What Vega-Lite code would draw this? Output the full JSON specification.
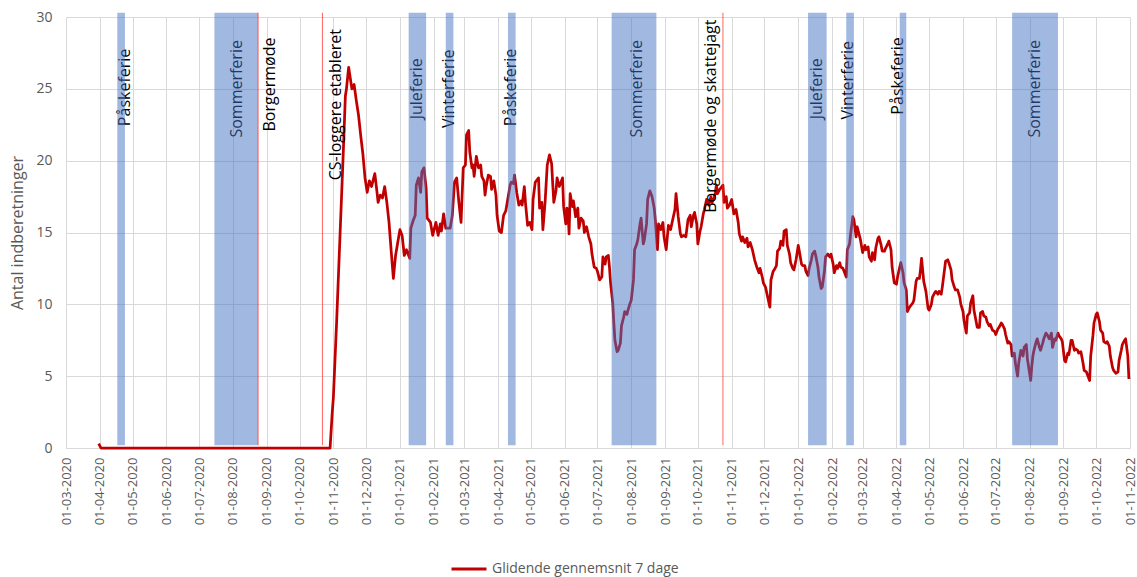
{
  "$schema": "https://vega.github.io/schema/vega-lite/v6.json",
  "width": 1064,
  "height": 431,
  "autosize": "none",
  "padding": {"left": 66, "top": 17, "right": 7, "bottom": 129},
  "background": "white",
  "config": {
    "font": "Open Sans",
    "view": {"stroke": null},
    "axis": {"titleFontWeight": "normal"}
  },
  "datasets": {
    "series": [
      {"date":"2020-03-31","value":0.3},{"date":"2020-04-02","value":0},{"date":"2020-10-29","value":0},{"date":"2020-10-31","value":2.5},{"date":"2020-11-01","value":3.5},{"date":"2020-11-04","value":8.8},{"date":"2020-11-07","value":14.6},{"date":"2020-11-10","value":20.4},{"date":"2020-11-12","value":24.5},{"date":"2020-11-13","value":25.0},{"date":"2020-11-15","value":26.5},{"date":"2020-11-16","value":26.0},{"date":"2020-11-18","value":25.0},{"date":"2020-11-20","value":25.3},{"date":"2020-11-22","value":24.2},{"date":"2020-11-24","value":23.2},{"date":"2020-11-26","value":21.8},{"date":"2020-11-28","value":20.5},{"date":"2020-11-30","value":18.8},
      {"date":"2020-12-02","value":17.8},{"date":"2020-12-04","value":18.6},{"date":"2020-12-06","value":18.2},{"date":"2020-12-08","value":18.8},{"date":"2020-12-09","value":19.1},{"date":"2020-12-11","value":17.8},{"date":"2020-12-12","value":17.1},{"date":"2020-12-14","value":17.6},{"date":"2020-12-16","value":17.4},{"date":"2020-12-18","value":18.2},{"date":"2020-12-20","value":17.1},{"date":"2020-12-22","value":15.7},{"date":"2020-12-24","value":13.7},{"date":"2020-12-26","value":11.8},{"date":"2020-12-28","value":13.4},{"date":"2020-12-30","value":14.3},
      {"date":"2021-01-01","value":15.2},{"date":"2021-01-03","value":14.8},{"date":"2021-01-05","value":13.4},{"date":"2021-01-07","value":13.8},{"date":"2021-01-09","value":13.4},{"date":"2021-01-10","value":13.2},{"date":"2021-01-11","value":15.3},{"date":"2021-01-13","value":15.8},{"date":"2021-01-15","value":16.2},{"date":"2021-01-16","value":18.3},{"date":"2021-01-18","value":18.8},{"date":"2021-01-20","value":17.8},{"date":"2021-01-21","value":19.2},{"date":"2021-01-23","value":19.5},{"date":"2021-01-25","value":18.1},{"date":"2021-01-26","value":16.0},{"date":"2021-01-29","value":15.7},{"date":"2021-01-31","value":14.8},
      {"date":"2021-02-03","value":15.7},{"date":"2021-02-05","value":14.8},{"date":"2021-02-07","value":15.6},{"date":"2021-02-08","value":15.1},{"date":"2021-02-10","value":16.3},{"date":"2021-02-12","value":15.3},{"date":"2021-02-16","value":15.3},{"date":"2021-02-18","value":16.2},{"date":"2021-02-20","value":18.5},{"date":"2021-02-22","value":18.8},{"date":"2021-02-24","value":17.1},{"date":"2021-02-26","value":15.7},{"date":"2021-02-28","value":19.5},
      {"date":"2021-03-02","value":19.7},{"date":"2021-03-03","value":21.8},{"date":"2021-03-05","value":22.1},{"date":"2021-03-06","value":20.6},{"date":"2021-03-08","value":19.5},{"date":"2021-03-09","value":19.7},{"date":"2021-03-10","value":18.9},{"date":"2021-03-12","value":20.3},{"date":"2021-03-14","value":19.5},{"date":"2021-03-16","value":19.7},{"date":"2021-03-17","value":18.9},{"date":"2021-03-19","value":18.6},{"date":"2021-03-20","value":17.6},{"date":"2021-03-21","value":18.2},{"date":"2021-03-23","value":19.0},{"date":"2021-03-25","value":18.9},{"date":"2021-03-26","value":18.0},{"date":"2021-03-28","value":18.6},{"date":"2021-03-30","value":17.6},{"date":"2021-03-31","value":16.2},
      {"date":"2021-04-02","value":15.1},{"date":"2021-04-04","value":15.0},{"date":"2021-04-06","value":16.2},{"date":"2021-04-08","value":16.5},{"date":"2021-04-10","value":17.4},{"date":"2021-04-12","value":18.3},{"date":"2021-04-13","value":18.5},{"date":"2021-04-15","value":18.4},{"date":"2021-04-16","value":19.0},{"date":"2021-04-18","value":17.8},{"date":"2021-04-20","value":16.9},{"date":"2021-04-22","value":17.2},{"date":"2021-04-23","value":16.9},{"date":"2021-04-25","value":18.2},{"date":"2021-04-26","value":17.1},{"date":"2021-04-28","value":15.5},{"date":"2021-04-30","value":15.7},
      {"date":"2021-05-02","value":15.2},{"date":"2021-05-03","value":17.3},{"date":"2021-05-05","value":18.5},{"date":"2021-05-08","value":18.8},{"date":"2021-05-09","value":16.7},{"date":"2021-05-11","value":17.1},{"date":"2021-05-12","value":15.2},{"date":"2021-05-14","value":17.1},{"date":"2021-05-16","value":19.7},{"date":"2021-05-18","value":20.4},{"date":"2021-05-20","value":19.8},{"date":"2021-05-21","value":18.4},{"date":"2021-05-22","value":17.1},{"date":"2021-05-24","value":17.9},{"date":"2021-05-25","value":18.8},{"date":"2021-05-27","value":18.2},{"date":"2021-05-28","value":18.4},{"date":"2021-05-30","value":18.8},{"date":"2021-05-31","value":16.8},
      {"date":"2021-06-02","value":15.6},{"date":"2021-06-03","value":16.7},{"date":"2021-06-04","value":16.5},{"date":"2021-06-05","value":14.9},{"date":"2021-06-06","value":17.7},{"date":"2021-06-08","value":16.8},{"date":"2021-06-09","value":17.2},{"date":"2021-06-11","value":16.1},{"date":"2021-06-13","value":16.7},{"date":"2021-06-14","value":15.3},{"date":"2021-06-16","value":16.0},{"date":"2021-06-18","value":15.8},{"date":"2021-06-19","value":15.0},{"date":"2021-06-21","value":15.4},{"date":"2021-06-23","value":14.7},{"date":"2021-06-25","value":14.2},{"date":"2021-06-26","value":13.5},{"date":"2021-06-28","value":12.6},{"date":"2021-06-30","value":12.5},
      {"date":"2021-07-01","value":12.3},{"date":"2021-07-03","value":11.7},{"date":"2021-07-05","value":11.9},{"date":"2021-07-06","value":13.3},{"date":"2021-07-08","value":12.8},{"date":"2021-07-09","value":13.3},{"date":"2021-07-11","value":13.4},{"date":"2021-07-12","value":12.6},{"date":"2021-07-13","value":11.5},{"date":"2021-07-15","value":10.1},{"date":"2021-07-16","value":8.7},{"date":"2021-07-17","value":7.5},{"date":"2021-07-19","value":6.7},{"date":"2021-07-20","value":6.8},{"date":"2021-07-22","value":7.3},{"date":"2021-07-23","value":8.5},{"date":"2021-07-25","value":9.1},{"date":"2021-07-26","value":9.5},{"date":"2021-07-28","value":9.3},{"date":"2021-07-29","value":9.6},{"date":"2021-07-31","value":10.1},
      {"date":"2021-08-01","value":10.3},{"date":"2021-08-03","value":11.7},{"date":"2021-08-04","value":13.8},{"date":"2021-08-06","value":14.2},{"date":"2021-08-07","value":14.5},{"date":"2021-08-09","value":15.6},{"date":"2021-08-10","value":16.0},{"date":"2021-08-12","value":14.2},{"date":"2021-08-13","value":14.5},{"date":"2021-08-15","value":15.6},{"date":"2021-08-16","value":17.3},{"date":"2021-08-18","value":17.9},{"date":"2021-08-20","value":17.5},{"date":"2021-08-22","value":16.7},{"date":"2021-08-23","value":15.9},{"date":"2021-08-25","value":13.8},{"date":"2021-08-26","value":15.6},{"date":"2021-08-28","value":15.2},{"date":"2021-08-30","value":15.7},{"date":"2021-08-31","value":14.7},
      {"date":"2021-09-02","value":13.8},{"date":"2021-09-04","value":15.5},{"date":"2021-09-06","value":15.2},{"date":"2021-09-08","value":15.9},{"date":"2021-09-10","value":16.6},{"date":"2021-09-11","value":17.7},{"date":"2021-09-13","value":16.1},{"date":"2021-09-15","value":14.9},{"date":"2021-09-16","value":14.7},{"date":"2021-09-18","value":14.8},{"date":"2021-09-20","value":14.7},{"date":"2021-09-22","value":15.9},{"date":"2021-09-24","value":16.2},{"date":"2021-09-25","value":15.4},{"date":"2021-09-27","value":16.2},{"date":"2021-09-28","value":16.4},{"date":"2021-09-30","value":15.6},
      {"date":"2021-10-01","value":14.2},{"date":"2021-10-03","value":15.1},{"date":"2021-10-04","value":15.4},{"date":"2021-10-06","value":16.3},{"date":"2021-10-07","value":16.6},{"date":"2021-10-09","value":17.3},{"date":"2021-10-11","value":16.9},{"date":"2021-10-13","value":17.5},{"date":"2021-10-14","value":17.1},{"date":"2021-10-16","value":17.4},{"date":"2021-10-17","value":17.8},{"date":"2021-10-18","value":18.3},{"date":"2021-10-19","value":17.7},{"date":"2021-10-21","value":18.0},{"date":"2021-10-22","value":18.1},{"date":"2021-10-24","value":18.3},{"date":"2021-10-25","value":17.1},{"date":"2021-10-27","value":17.5},{"date":"2021-10-28","value":16.7},{"date":"2021-10-30","value":16.9},
      {"date":"2021-11-01","value":17.3},{"date":"2021-11-03","value":16.3},{"date":"2021-11-05","value":16.6},{"date":"2021-11-07","value":15.7},{"date":"2021-11-08","value":14.9},{"date":"2021-11-10","value":14.4},{"date":"2021-11-11","value":14.7},{"date":"2021-11-13","value":14.3},{"date":"2021-11-15","value":14.6},{"date":"2021-11-16","value":14.0},{"date":"2021-11-18","value":14.3},{"date":"2021-11-20","value":13.8},{"date":"2021-11-22","value":13.1},{"date":"2021-11-24","value":12.6},{"date":"2021-11-26","value":12.2},{"date":"2021-11-27","value":12.5},{"date":"2021-11-29","value":11.9},{"date":"2021-11-30","value":11.5},
      {"date":"2021-12-02","value":11.2},{"date":"2021-12-04","value":10.5},{"date":"2021-12-06","value":9.8},{"date":"2021-12-07","value":11.7},{"date":"2021-12-09","value":12.3},{"date":"2021-12-10","value":12.4},{"date":"2021-12-12","value":12.7},{"date":"2021-12-13","value":13.7},{"date":"2021-12-15","value":13.9},{"date":"2021-12-16","value":14.4},{"date":"2021-12-18","value":14.1},{"date":"2021-12-19","value":15.1},{"date":"2021-12-21","value":15.2},{"date":"2021-12-22","value":14.1},{"date":"2021-12-24","value":13.5},{"date":"2021-12-25","value":12.9},{"date":"2021-12-27","value":12.5},{"date":"2021-12-28","value":12.4},{"date":"2021-12-30","value":13.1},
      {"date":"2022-01-01","value":14.1},{"date":"2022-01-02","value":13.7},{"date":"2022-01-04","value":12.8},{"date":"2022-01-05","value":12.7},{"date":"2022-01-07","value":12.7},{"date":"2022-01-08","value":12.3},{"date":"2022-01-10","value":12.0},{"date":"2022-01-11","value":12.5},{"date":"2022-01-13","value":13.1},{"date":"2022-01-14","value":13.5},{"date":"2022-01-16","value":13.7},{"date":"2022-01-17","value":13.4},{"date":"2022-01-19","value":12.6},{"date":"2022-01-20","value":11.9},{"date":"2022-01-22","value":11.1},{"date":"2022-01-23","value":11.2},{"date":"2022-01-25","value":12.3},{"date":"2022-01-26","value":13.3},{"date":"2022-01-28","value":13.5},{"date":"2022-01-30","value":13.3},{"date":"2022-01-31","value":13.5},
      {"date":"2022-02-02","value":12.8},{"date":"2022-02-03","value":12.2},{"date":"2022-02-05","value":12.7},{"date":"2022-02-06","value":12.5},{"date":"2022-02-08","value":12.9},{"date":"2022-02-09","value":12.6},{"date":"2022-02-11","value":12.5},{"date":"2022-02-12","value":12.3},{"date":"2022-02-14","value":11.9},{"date":"2022-02-15","value":13.8},{"date":"2022-02-17","value":14.2},{"date":"2022-02-18","value":14.9},{"date":"2022-02-20","value":16.1},{"date":"2022-02-21","value":15.9},{"date":"2022-02-23","value":14.7},{"date":"2022-02-24","value":15.4},{"date":"2022-02-26","value":14.8},{"date":"2022-02-27","value":14.5},
      {"date":"2022-03-01","value":13.6},{"date":"2022-03-03","value":14.1},{"date":"2022-03-04","value":13.8},{"date":"2022-03-06","value":14.0},{"date":"2022-03-07","value":13.3},{"date":"2022-03-09","value":13.0},{"date":"2022-03-10","value":13.6},{"date":"2022-03-12","value":13.1},{"date":"2022-03-13","value":13.9},{"date":"2022-03-15","value":14.6},{"date":"2022-03-16","value":14.7},{"date":"2022-03-18","value":14.1},{"date":"2022-03-19","value":13.7},{"date":"2022-03-21","value":13.7},{"date":"2022-03-22","value":13.9},{"date":"2022-03-24","value":14.2},{"date":"2022-03-25","value":14.4},{"date":"2022-03-27","value":13.8},{"date":"2022-03-28","value":12.6},{"date":"2022-03-30","value":11.5},
      {"date":"2022-04-01","value":11.4},{"date":"2022-04-02","value":11.9},{"date":"2022-04-04","value":12.6},{"date":"2022-04-05","value":12.9},{"date":"2022-04-07","value":12.2},{"date":"2022-04-08","value":11.5},{"date":"2022-04-10","value":11.0},{"date":"2022-04-11","value":9.5},{"date":"2022-04-13","value":9.8},{"date":"2022-04-14","value":9.9},{"date":"2022-04-16","value":10.1},{"date":"2022-04-17","value":10.3},{"date":"2022-04-19","value":11.6},{"date":"2022-04-20","value":11.8},{"date":"2022-04-22","value":11.8},{"date":"2022-04-23","value":12.4},{"date":"2022-04-24","value":13.2},{"date":"2022-04-25","value":12.4},{"date":"2022-04-26","value":11.6},{"date":"2022-04-28","value":10.9},{"date":"2022-04-30","value":9.7},
      {"date":"2022-05-01","value":9.6},{"date":"2022-05-03","value":10.0},{"date":"2022-05-04","value":10.5},{"date":"2022-05-06","value":10.8},{"date":"2022-05-07","value":10.9},{"date":"2022-05-09","value":10.7},{"date":"2022-05-10","value":10.9},{"date":"2022-05-12","value":10.7},{"date":"2022-05-13","value":11.2},{"date":"2022-05-15","value":12.4},{"date":"2022-05-16","value":13.0},{"date":"2022-05-18","value":13.1},{"date":"2022-05-19","value":12.9},{"date":"2022-05-21","value":12.4},{"date":"2022-05-22","value":11.7},{"date":"2022-05-24","value":11.2},{"date":"2022-05-25","value":11.0},{"date":"2022-05-27","value":11.0},{"date":"2022-05-29","value":10.5},{"date":"2022-05-30","value":10.0},
      {"date":"2022-06-01","value":9.5},{"date":"2022-06-02","value":8.8},{"date":"2022-06-04","value":8.0},{"date":"2022-06-05","value":9.2},{"date":"2022-06-07","value":9.4},{"date":"2022-06-08","value":10.1},{"date":"2022-06-10","value":10.6},{"date":"2022-06-11","value":9.6},{"date":"2022-06-13","value":8.8},{"date":"2022-06-14","value":8.4},{"date":"2022-06-16","value":8.4},{"date":"2022-06-17","value":9.4},{"date":"2022-06-19","value":9.5},{"date":"2022-06-20","value":9.2},{"date":"2022-06-22","value":9.1},{"date":"2022-06-23","value":8.8},{"date":"2022-06-25","value":8.5},{"date":"2022-06-26","value":8.6},{"date":"2022-06-28","value":8.2},{"date":"2022-06-30","value":8.1},
      {"date":"2022-07-01","value":7.9},{"date":"2022-07-03","value":8.3},{"date":"2022-07-04","value":8.4},{"date":"2022-07-06","value":8.7},{"date":"2022-07-07","value":8.6},{"date":"2022-07-09","value":8.3},{"date":"2022-07-10","value":7.9},{"date":"2022-07-12","value":7.3},{"date":"2022-07-13","value":7.4},{"date":"2022-07-15","value":7.2},{"date":"2022-07-16","value":6.4},{"date":"2022-07-18","value":6.6},{"date":"2022-07-19","value":5.9},{"date":"2022-07-21","value":5.0},{"date":"2022-07-22","value":5.9},{"date":"2022-07-24","value":6.8},{"date":"2022-07-26","value":6.4},{"date":"2022-07-27","value":7.0},{"date":"2022-07-29","value":7.2},{"date":"2022-07-30","value":6.2},
      {"date":"2022-08-01","value":5.2},{"date":"2022-08-02","value":4.7},{"date":"2022-08-03","value":5.7},{"date":"2022-08-04","value":6.4},{"date":"2022-08-05","value":6.8},{"date":"2022-08-07","value":7.4},{"date":"2022-08-08","value":7.6},{"date":"2022-08-10","value":7.0},{"date":"2022-08-11","value":6.8},{"date":"2022-08-13","value":7.3},{"date":"2022-08-14","value":7.6},{"date":"2022-08-16","value":8.0},{"date":"2022-08-17","value":7.9},{"date":"2022-08-19","value":7.6},{"date":"2022-08-21","value":8.0},{"date":"2022-08-22","value":7.0},{"date":"2022-08-24","value":7.6},{"date":"2022-08-25","value":7.5},{"date":"2022-08-27","value":8.0},{"date":"2022-08-28","value":7.8},{"date":"2022-08-30","value":7.6},{"date":"2022-08-31","value":7.4},
      {"date":"2022-09-02","value":6.1},{"date":"2022-09-03","value":6.0},{"date":"2022-09-05","value":6.6},{"date":"2022-09-06","value":6.5},{"date":"2022-09-08","value":7.5},{"date":"2022-09-09","value":7.5},{"date":"2022-09-11","value":6.8},{"date":"2022-09-12","value":6.9},{"date":"2022-09-14","value":6.8},{"date":"2022-09-15","value":6.6},{"date":"2022-09-17","value":6.7},{"date":"2022-09-19","value":5.9},{"date":"2022-09-20","value":5.4},{"date":"2022-09-22","value":5.3},{"date":"2022-09-23","value":5.1},{"date":"2022-09-25","value":4.7},{"date":"2022-09-26","value":6.4},{"date":"2022-09-28","value":7.8},{"date":"2022-09-29","value":8.7},
      {"date":"2022-10-01","value":9.3},{"date":"2022-10-02","value":9.4},{"date":"2022-10-04","value":8.8},{"date":"2022-10-05","value":8.2},{"date":"2022-10-07","value":8.0},{"date":"2022-10-08","value":7.4},{"date":"2022-10-10","value":7.3},{"date":"2022-10-11","value":7.4},{"date":"2022-10-13","value":7.1},{"date":"2022-10-14","value":6.4},{"date":"2022-10-16","value":5.6},{"date":"2022-10-17","value":5.4},{"date":"2022-10-19","value":5.2},{"date":"2022-10-21","value":5.3},{"date":"2022-10-22","value":6.1},{"date":"2022-10-24","value":6.8},{"date":"2022-10-25","value":7.2},{"date":"2022-10-27","value":7.5},{"date":"2022-10-28","value":7.6},{"date":"2022-10-30","value":6.4},{"date":"2022-10-31","value":4.8}
    ],
    "bands": [
      {"label":"Påskeferie","start":"2020-04-17","end":"2020-04-24"},
      {"label":"Sommerferie","start":"2020-07-15","end":"2020-08-24"},
      {"label":"Juleferie","start":"2021-01-09","end":"2021-01-25"},
      {"label":"Vinterferie","start":"2021-02-12","end":"2021-02-19"},
      {"label":"Påskeferie","start":"2021-04-10","end":"2021-04-17"},
      {"label":"Sommerferie","start":"2021-07-14","end":"2021-08-24"},
      {"label":"Juleferie","start":"2022-01-10","end":"2022-01-27"},
      {"label":"Vinterferie","start":"2022-02-14","end":"2022-02-21"},
      {"label":"Påskeferie","start":"2022-04-04","end":"2022-04-10"},
      {"label":"Sommerferie","start":"2022-07-16","end":"2022-08-27"}
    ],
    "events": [
      {"label":"Borgermøde","date":"2020-08-24"},
      {"label":"CS-loggere etableret","date":"2020-10-22"},
      {"label":"Borgermøde og skattejagt","date":"2021-10-24"}
    ],
    "labels": [
      {"label":"Påskeferie","date":"2020-04-24","value":25.1,"kind":"ferie"},
      {"label":"Sommerferie","date":"2020-08-05","value":25.0,"kind":"ferie"},
      {"label":"Borgermøde","date":"2020-09-04","value":25.3,"kind":"event"},
      {"label":"CS-loggere etableret","date":"2020-11-03","value":23.9,"kind":"event"},
      {"label":"Juleferie","date":"2021-01-17","value":25.0,"kind":"ferie"},
      {"label":"Vinterferie","date":"2021-02-15","value":25.0,"kind":"ferie"},
      {"label":"Påskeferie","date":"2021-04-13","value":25.1,"kind":"ferie"},
      {"label":"Sommerferie","date":"2021-08-06","value":25.0,"kind":"ferie"},
      {"label":"Borgermøde og skattejagt","date":"2021-10-13","value":23.1,"kind":"event"},
      {"label":"Juleferie","date":"2022-01-18","value":25.0,"kind":"ferie"},
      {"label":"Vinterferie","date":"2022-02-16","value":25.6,"kind":"ferie"},
      {"label":"Påskeferie","date":"2022-04-02","value":25.9,"kind":"ferie"},
      {"label":"Sommerferie","date":"2022-08-06","value":25.0,"kind":"ferie"}
    ]
  },
  "layer": [
    {
      "data": {"name": "labels"},
      "transform": [{"filter": "datum.kind === 'ferie'"}],
      "mark": {"type": "text", "angle": 270, "align": "center", "baseline": "middle", "fontSize": 16, "color": "#000000"},
      "encoding": {
        "x": {
          "field": "date",
          "type": "temporal",
          "scale": {"type": "utc", "domain": [{"year": 2020, "month": 3, "date": 1, "utc": true}, {"year": 2022, "month": 11, "date": 1, "utc": true}]},
          "axis": {
            "title": null,
            "format": "%d-%m-%Y",
            "tickCount": {"interval": "month", "step": 1},
            "labelAngle": -90,
            "labelFontSize": 13,
            "labelColor": "#595959",
            "labelPadding": 9,
            "labelOverlap": false,
            "labelFlush": false,
            "labelBound": false,
            "grid": true,
            "gridColor": "#d9d9d9",
            "gridWidth": 1,
            "ticks": false,
            "domainColor": "#d9d9d9"
          }
        },
        "y": {
          "field": "value",
          "type": "quantitative",
          "scale": {"domain": [0, 30], "nice": false, "zero": true},
          "axis": {
            "title": "Antal indberetninger",
            "titleFontSize": 16,
            "titleColor": "#595959",
            "titleFontWeight": "normal",
            "titlePadding": 10,
            "values": [0, 5, 10, 15, 20, 25, 30],
            "labelFontSize": 14,
            "labelColor": "#595959",
            "labelPadding": 14,
            "grid": true,
            "gridColor": "#d9d9d9",
            "domain": false,
            "ticks": false
          }
        },
        "text": {"field": "label"}
      }
    },
    {
      "data": {"name": "series"},
      "mark": {"type": "line", "strokeWidth": 2.75, "strokeJoin": "round", "interpolate": "linear"},
      "encoding": {
        "x": {"field": "date", "type": "temporal"},
        "y": {"field": "value", "type": "quantitative"},
        "color": {
          "datum": "Glidende gennemsnit 7 dage",
          "scale": {"range": ["#C00000"]},
          "legend": {
            "title": null,
            "orient": "none",
            "legendX": 384,
            "legendY": 533,
            "symbolType": "stroke",
            "symbolSize": 1225,
            "symbolStrokeWidth": 3,
            "labelFontSize": 14,
            "labelLimit": 400,
            "labelColor": "#595959",
            "labelFont": "Open Sans"
          }
        }
      }
    },
    {
      "data": {"name": "bands"},
      "mark": {"type": "rect", "color": "#4472C4", "opacity": 0.5},
      "encoding": {
        "x": {"field": "start", "type": "temporal"},
        "x2": {"field": "end"},
        "y": {"datum": 0.2, "type": "quantitative"},
        "y2": {"datum": 30.3}
      }
    },
    {
      "data": {"name": "events"},
      "mark": {"type": "rule", "color": "#FF3030", "strokeWidth": 1, "opacity": 0.75},
      "encoding": {
        "x": {"field": "date", "type": "temporal"},
        "y": {"datum": 0.2, "type": "quantitative"},
        "y2": {"datum": 30.3}
      }
    },
    {
      "data": {"name": "labels"},
      "transform": [{"filter": "datum.kind === 'event'"}],
      "mark": {"type": "text", "angle": 270, "align": "center", "baseline": "middle", "fontSize": 16, "color": "#000000"},
      "encoding": {
        "x": {"field": "date", "type": "temporal"},
        "y": {"field": "value", "type": "quantitative"},
        "text": {"field": "label"}
      }
    }
  ]
}
